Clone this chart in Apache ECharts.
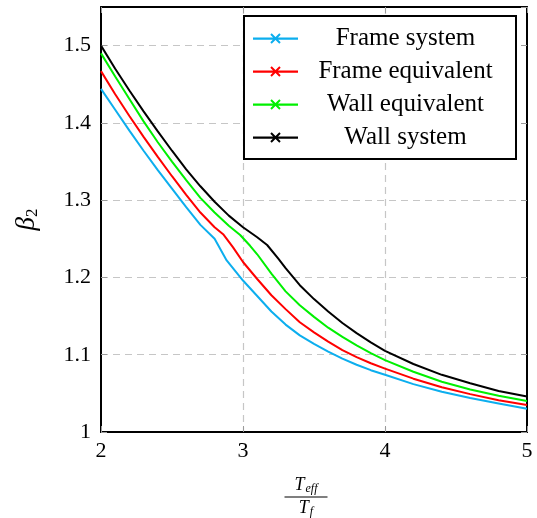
<!DOCTYPE html>
<html><head><meta charset="utf-8">
<script src="https://cdn.jsdelivr.net/npm/echarts@6/dist/echarts.min.js"></script>
<style>html,body{margin:0;padding:0;background:#fff}#c{width:537px;height:518px}</style>
</head><body><div id="c"></div>
<script>
const seriesNames = ['Frame system', 'Frame equivalent', 'Wall equivalent', 'Wall system'];
const seriesColors = ['#0caeee', '#ff0000', '#00f000', '#000000'];

const frameSystem = [[2.0,1.444],[2.1,1.417],[2.2,1.390],[2.3,1.364],[2.4,1.339],[2.5,1.315],[2.6,1.291],[2.7,1.268],[2.8,1.250],[2.885,1.222],[3.0,1.196],[3.1,1.176],[3.2,1.156],[3.3,1.139],[3.4,1.125],[3.5,1.114],[3.6,1.104],[3.7,1.095],[3.8,1.087],[3.9,1.080],[4.0,1.074],[4.2,1.062],[4.4,1.052],[4.6,1.044],[4.8,1.037],[5.0,1.030]];
const frameEquivalent = [[2.0,1.467],[2.1,1.437],[2.2,1.409],[2.3,1.382],[2.4,1.356],[2.5,1.331],[2.6,1.307],[2.7,1.284],[2.8,1.265],[2.86,1.256],[2.93,1.239],[3.0,1.220],[3.1,1.198],[3.2,1.177],[3.3,1.159],[3.4,1.142],[3.5,1.129],[3.6,1.117],[3.7,1.106],[3.8,1.097],[3.9,1.089],[4.0,1.082],[4.2,1.069],[4.4,1.058],[4.6,1.049],[4.8,1.041],[5.0,1.035]];
const wallEquivalent = [[2.0,1.490],[2.1,1.460],[2.2,1.431],[2.3,1.402],[2.4,1.375],[2.5,1.350],[2.6,1.326],[2.7,1.303],[2.8,1.284],[2.9,1.267],[2.98,1.255],[3.05,1.241],[3.1,1.230],[3.2,1.205],[3.3,1.182],[3.4,1.164],[3.5,1.149],[3.6,1.135],[3.7,1.123],[3.8,1.112],[3.9,1.102],[4.0,1.093],[4.2,1.078],[4.4,1.065],[4.6,1.055],[4.8,1.047],[5.0,1.040]];
const wallSystem = [[2.0,1.500],[2.1,1.470],[2.2,1.442],[2.3,1.415],[2.4,1.389],[2.5,1.364],[2.6,1.340],[2.7,1.318],[2.8,1.298],[2.9,1.280],[3.0,1.265],[3.1,1.252],[3.17,1.242],[3.25,1.224],[3.3,1.212],[3.4,1.190],[3.5,1.172],[3.6,1.156],[3.7,1.141],[3.8,1.128],[3.9,1.116],[4.0,1.105],[4.2,1.088],[4.4,1.074],[4.6,1.063],[4.8,1.053],[5.0,1.046]];
const seriesData = [frameSystem, frameEquivalent, wallEquivalent, wallSystem];

const xRange = [2, 5];
const xStep = 1;
const yRange = [1, 1.55];
const yStep = 0.1;

const serif = 'Liberation Serif';
const legendIcon = 'path://M0,5L45,5L45,7.2L0,7.2Z M18.7,0.8L27.7,9.8L26.3,11.2L17.3,2.2Z M17.3,9.8L26.3,0.8L27.7,2.2L18.7,11.2Z';

const chart = echarts.init(document.getElementById('c'), null, {renderer: 'canvas'});

const tickStyle = {show: true, inside: true, length: 6, lineStyle: {color: '#9a9a9a', width: 1}};
const splitStyle = {show: true, showMinLine: false, showMaxLine: false, lineStyle: {color: '#c6c6c6', width: 1.2, type: [7, 5]}};
const frameLine = {show: true, onZero: false, lineStyle: {color: '#000', width: 2}};

chart.setOption({
  animation: false,
  backgroundColor: '#fff',
  grid: {left: 101, right: 10, top: 7, bottom: 86, show: false, containLabel: false, outerBoundsMode: 'none'},
  legend: {
    orient: 'vertical', left: 244, top: 16,
    backgroundColor: '#fff', borderColor: '#000', borderWidth: 2, borderRadius: 0,
    padding: [10, 8, 9, 9], itemWidth: 45, itemHeight: 12, itemGap: 8, itemTextGap: 4,
    itemStyle: {borderWidth: 0},
    data: seriesNames.map(n => ({name: n, icon: legendIcon})),
    formatter: n => '{a|' + n + '}',
    textStyle: {rich: {a: {width: 205, align: 'center', fontFamily: serif, fontSize: 25, lineHeight: 25, color: '#000'}}}
  },
  xAxis: [{
    type: 'value', min: xRange[0], max: xRange[1], interval: xStep, position: 'bottom',
    axisLine: frameLine, axisTick: tickStyle, splitLine: splitStyle,
    axisLabel: {fontFamily: serif, fontSize: 22, color: '#000', margin: 8},
    name: '{t|T}{sub|eff}\n{bar|}\n{t|T}{sub|f}',
    nameLocation: 'middle', nameGap: 45,
    nameTextStyle: {
      align: 'center', padding: [0, 16, 0, 0],
      rich: {
        t: {fontFamily: serif, fontStyle: 'italic', fontSize: 18, lineHeight: 17, color: '#000'},
        sub: {fontFamily: serif, fontStyle: 'italic', fontSize: 12, lineHeight: 17, padding: [7, 0, 0, 1], color: '#000'},
        bar: {width: 43, height: 1.2, backgroundColor: '#000', lineHeight: 6}
      }
    }
  }, {
    type: 'value', min: xRange[0], max: xRange[1], interval: xStep, position: 'top',
    axisLine: frameLine, axisTick: tickStyle, splitLine: {show: false}, axisLabel: {show: false}
  }],
  yAxis: [{
    type: 'value', min: yRange[0], max: yRange[1], interval: yStep, position: 'left',
    axisLine: frameLine, axisTick: tickStyle, splitLine: splitStyle,
    axisLabel: {fontFamily: serif, fontSize: 22, color: '#000', margin: 10, showMaxLabel: false,
      formatter: v => String(Math.round(v * 10) / 10)},
    name: '{b|β}{s|2}', nameLocation: 'middle', nameRotate: 90, nameGap: 60,
    nameTextStyle: {
      rich: {
        b: {fontFamily: serif, fontStyle: 'italic', fontSize: 27, color: '#000'},
        s: {fontFamily: serif, fontSize: 17, padding: [11, 0, 0, 0], color: '#000'}
      }
    }
  }, {
    type: 'value', min: yRange[0], max: yRange[1], interval: yStep, position: 'right',
    axisLine: frameLine, axisTick: tickStyle, splitLine: {show: false}, axisLabel: {show: false}
  }],
  series: seriesNames.map((n, i) => ({
    name: n, type: 'line', data: seriesData[i],
    xAxisIndex: 0, yAxisIndex: 0,
    showSymbol: false, symbol: 'none', smooth: false,
    color: seriesColors[i],
    lineStyle: {color: seriesColors[i], width: 2},
    itemStyle: {color: seriesColors[i]},
    z: 3 + i
  }))
});
</script></body></html>
